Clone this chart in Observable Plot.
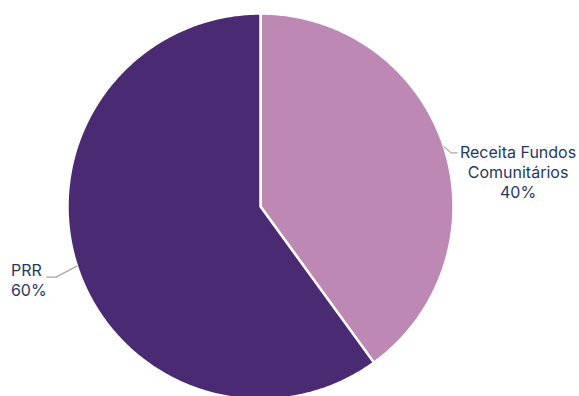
<!DOCTYPE html>
<html>
<head>
<meta charset="utf-8">
<script src="https://cdn.jsdelivr.net/npm/d3@7"></script>
<script src="https://cdn.jsdelivr.net/npm/@observablehq/plot@0.6"></script>
<style>
  html, body { margin: 0; padding: 0; background: #fff; }
</style>
</head>
<body>
<div id="chart"></div>
<script>
const categories = ["Receita Fundos Comunitários", "PRR"];
const labels = [["Receita Fundos", "Comunitários", "40%"], ["PRR", "60%"]];
const values = [40, 60];
const colors = ["#BD88B4", "#4B2A74"];

const R = 193;
const total = d3.sum(values);
let acc = 0;
const slices = categories.map((c, i) => {
  const a0 = acc / total * 2 * Math.PI;
  acc += values[i];
  const a1 = acc / total * 2 * Math.PI;
  return {name: c, a0, a1, mid: (a0 + a1) / 2, i};
});
const pt = (a, r) => ({x: r * Math.sin(a), y: r * Math.cos(a)});

const polys = [];
for (const s of slices) {
  polys.push({...pt(0, 0), name: s.name});
  const n = Math.max(2, Math.ceil((s.a1 - s.a0) / 0.01));
  for (let k = 0; k <= n; k++) {
    const a = s.a0 + (s.a1 - s.a0) * k / n;
    polys.push({...pt(a, R), name: s.name});
  }
  polys.push({...pt(0, 0), name: s.name});
}

const leaders = [];
const textRows = [];
for (const s of slices) {
  const side = Math.sin(s.mid) >= 0 ? 1 : -1;
  const p0 = pt(s.mid, R);
  const p1 = side > 0 ? {x: p0.x + 7, y: p0.y - 6} : {x: p0.x - 21, y: p0.y - 11};
  const p2 = {x: p1.x + side * (side > 0 ? 6 : 9), y: p1.y};
  [p0, p1, p2].forEach(p => leaders.push({...p, name: s.name}));
  const lines = labels[s.i];
  const lh = 20;
  const y0 = side > 0 ? p2.y : p2.y + 6;
  lines.forEach((t, k) => textRows.push({
    y: y0 - k * lh, t, anchor: side > 0 ? "middle" : "start",
    xx: side > 0 ? p2.x + 61 : p2.x - 36
  }));
}

const chart = Plot.plot({
  width: 579,
  height: 396,
  margin: 0,
  x: {domain: [-260, 319], axis: null},
  y: {domain: [-190, 206], axis: null},
  style: {fontFamily: "Inter, 'Open Sans', sans-serif", background: "#fff"},
  marks: [
    Plot.line(polys, {x: "x", y: "y", z: "name", fill: "name", stroke: "#fff", strokeWidth: 2.5, strokeLinejoin: "round", curve: "linear"}),
    Plot.line(leaders, {x: "x", y: "y", z: "name", stroke: "#A6A6A6", strokeWidth: 1.2}),
    Plot.text(textRows.filter(d => d.anchor === "middle"), {x: "xx", y: "y", text: "t", textAnchor: "middle", fill: "#1F3864", fontSize: 16}),
    Plot.text(textRows.filter(d => d.anchor === "start"), {x: "xx", y: "y", text: "t", textAnchor: "start", fill: "#1F3864", fontSize: 16})
  ],
  color: {domain: categories, range: colors}
});
document.getElementById("chart").appendChild(chart);
</script>
</body>
</html>
